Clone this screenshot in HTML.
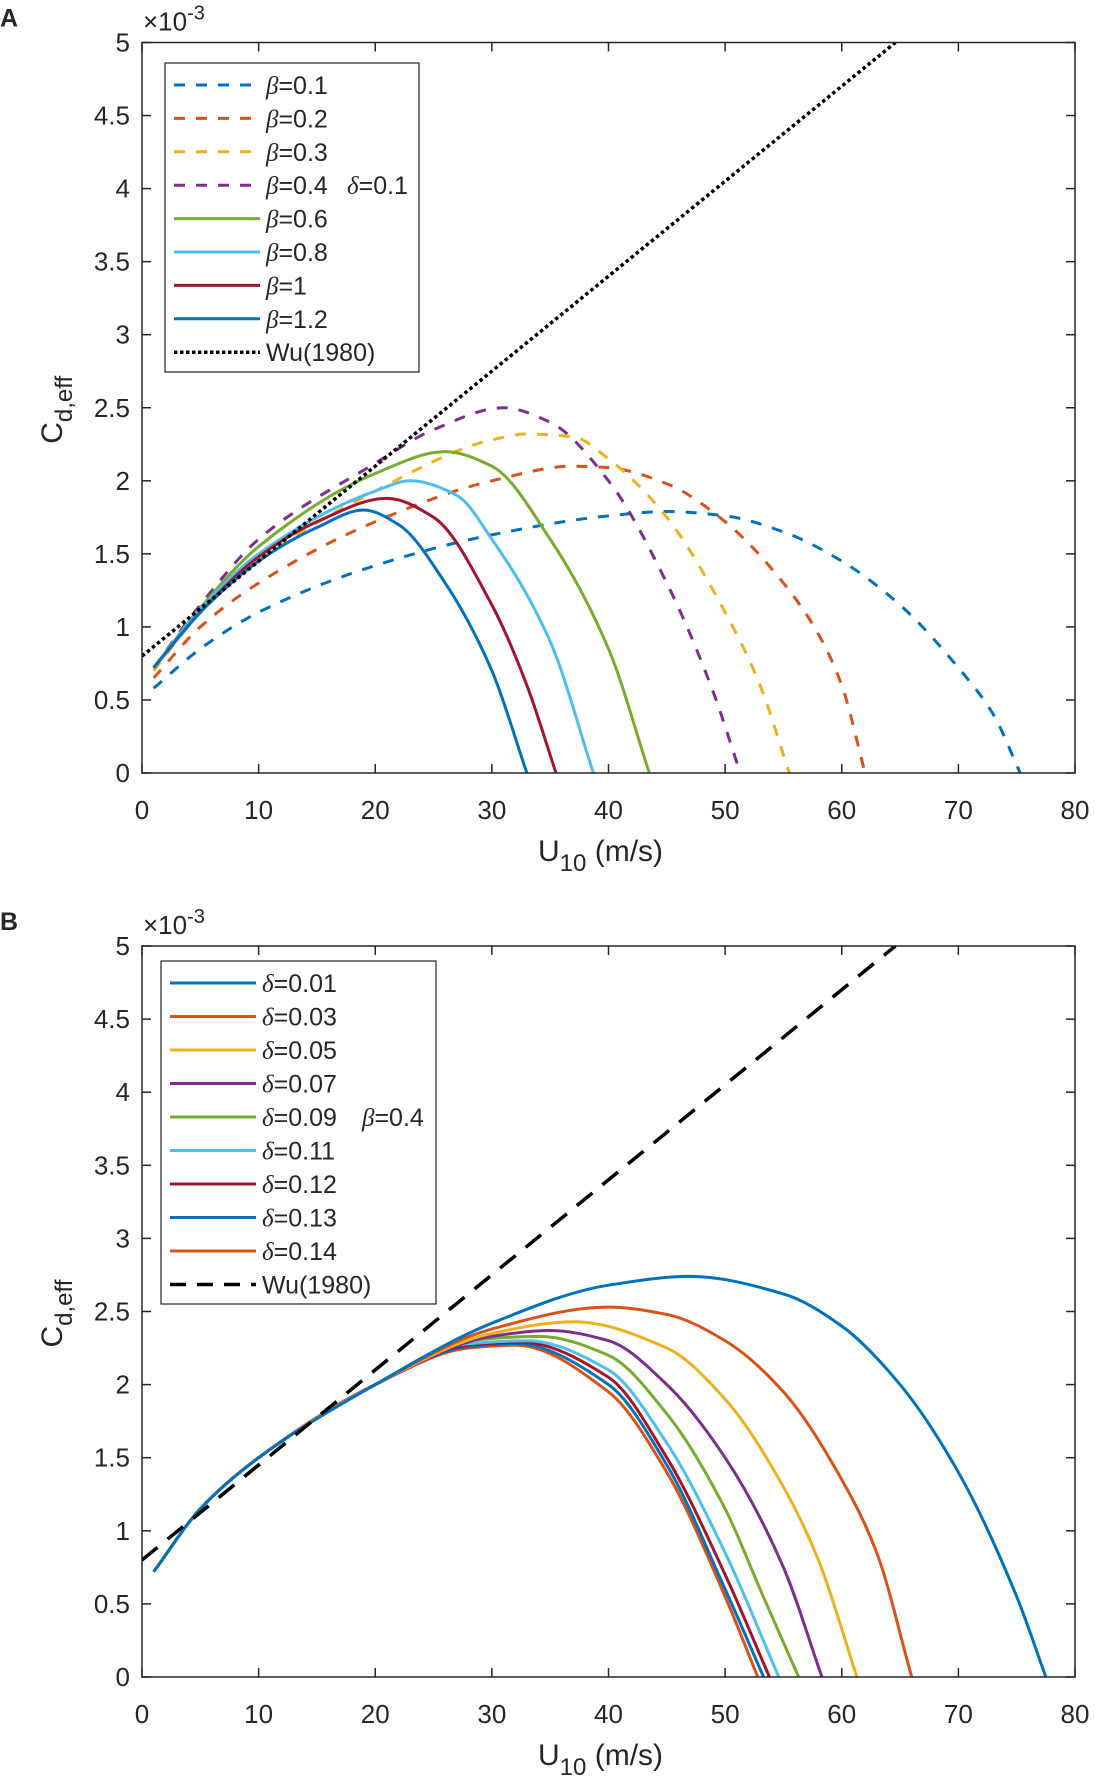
<!DOCTYPE html>
<html><head><meta charset="utf-8"><style>
body{margin:0;background:#fff;}
svg text{font-family:"Liberation Sans",Arial,sans-serif;fill:#262626;}
</style></head><body>
<svg id="c" width="1096" height="1784" viewBox="0 0 1096 1784" xmlns="http://www.w3.org/2000/svg"></svg>
<script>
const xTicks=[0,10,20,30,40,50,60,70,80];
const yTicks=[0,0.5,1,1.5,2,2.5,3,3.5,4,4.5,5];
const yTickLabels=["0","0.5","1","1.5","2","2.5","3","3.5","4","4.5","5"];
const colors=["#0072BD","#D95319","#EDB120","#7E2F8E","#77AC30","#4DBEEE","#A2142F"];
// Panel A series
const aLabels=["0.1","0.2","0.3","0.4","0.6","0.8","1","1.2"];
const aB01x=[1,5,10,20,30,40,45,50,55,60,65,70,73,75.3];
const aB01y=[0.58,0.85,1.1,1.42,1.63,1.76,1.79,1.76,1.65,1.45,1.15,0.72,0.4,0];
const aB02x=[1,5,10,20,30,37,40,45,50,55,58,60,62];
const aB02y=[0.65,1.0,1.3,1.72,2.0,2.1,2.09,1.98,1.72,1.3,0.95,0.6,0];
const aB03x=[1,5,10,20,30,33,37,40,45,50,53,55.5];
const aB03y=[0.7,1.1,1.45,1.93,2.28,2.32,2.3,2.15,1.75,1.1,0.6,0];
const aB04x=[1,5,10,20,25,31,35,40,45,49,51.3];
const aB04y=[0.72,1.15,1.6,2.12,2.35,2.5,2.4,2.0,1.3,0.55,0];
const aB06x=[1,5,10,20,26,30,35,40,43.5];
const aB06y=[0.72,1.13,1.55,2.05,2.2,2.1,1.6,0.85,0];
const aB08x=[1,5,10,20,23,27,30,35,38.7];
const aB08y=[0.72,1.12,1.5,1.93,2.0,1.9,1.6,0.9,0];
const aB10x=[1,5,10,15,21,25,30,33,35.5];
const aB10y=[0.72,1.1,1.48,1.72,1.88,1.75,1.15,0.6,0];
const aB12x=[1,5,10,15,19,22,26,30,33];
const aB12y=[0.72,1.1,1.45,1.68,1.8,1.7,1.3,0.7,0];
// Wu(1980): straight line
const wuX=[0,64.6];
const wuY=[0.8,5.0];
// Panel B series
const bLabels=["0.01","0.03","0.05","0.07","0.09","0.11","0.12","0.13","0.14"];
const bD01x=[1,5,10,20,30,40,47,55,60,65,70,75,77.5];
const bD01y=[0.72,1.15,1.5,2.0,2.42,2.68,2.74,2.62,2.4,2.0,1.4,0.55,0];
const bD03x=[1,5,10,20,30,40,45,50,55,60,63,66];
const bD03y=[0.72,1.15,1.5,2.0,2.38,2.53,2.48,2.3,1.95,1.35,0.85,0];
const bD05x=[1,5,10,20,30,37,45,50,55,58,61.3];
const bD05y=[0.72,1.15,1.5,2.0,2.35,2.43,2.25,1.9,1.3,0.8,0];
const bD07x=[1,5,10,20,30,35,40,45,50,55,58.3];
const bD07y=[0.72,1.15,1.5,2.0,2.33,2.37,2.3,2.0,1.5,0.75,0];
const bD09x=[1,5,10,20,28,34,40,45,50,53,56.3];
const bD09y=[0.72,1.15,1.5,2.0,2.3,2.33,2.2,1.8,1.15,0.6,0];
const bD11x=[1,5,10,20,28,33,40,45,50,54.6];
const bD11y=[0.72,1.15,1.5,2.0,2.28,2.3,2.1,1.6,0.85,0];
const bD12x=[1,5,10,20,28,32.5,40,45,50,53.8];
const bD12y=[0.72,1.15,1.5,2.0,2.27,2.29,2.05,1.5,0.7,0];
const bD13x=[1,5,10,20,28,32,40,45,50,53.3];
const bD13y=[0.72,1.15,1.5,2.0,2.26,2.28,2.0,1.45,0.6,0];
const bD14x=[1,5,10,20,28,32,40,45,50,52.8];
const bD14y=[0.72,1.15,1.5,2.0,2.25,2.27,1.95,1.4,0.55,0];

const svg=document.getElementById('c');
const NS="http://www.w3.org/2000/svg";
function el(t,a,p){const e=document.createElementNS(NS,t);for(const k in a)e.setAttribute(k,a[k]);(p||svg).appendChild(e);return e;}
const X0=142,X1=1075;
function sx(v){return X0+(v/80)*(X1-X0);}
function mkY(top,bot){return v=>bot-(v/5)*(bot-top);}
// monotone cubic (Fritsch-Carlson) in x
function smooth(pts){const n=pts.length,d=[],m=[];
 for(let i=0;i<n-1;i++)d.push((pts[i+1][1]-pts[i][1])/(pts[i+1][0]-pts[i][0]));
 m[0]=d[0];m[n-1]=d[n-2];
 for(let i=1;i<n-1;i++){if(d[i-1]*d[i]<=0)m[i]=0;else{const h0=pts[i][0]-pts[i-1][0],h1=pts[i+1][0]-pts[i][0];
  const w1=2*h1+h0,w2=h1+2*h0;m[i]=(w1+w2)/(w1/d[i-1]+w2/d[i]);}}
 let s="M"+pts[0][0]+","+pts[0][1];
 for(let i=0;i<n-1;i++){const h=(pts[i+1][0]-pts[i][0])/3;
  s+=" C"+(pts[i][0]+h)+","+(pts[i][1]+m[i]*h)+" "+(pts[i+1][0]-h)+","+(pts[i+1][1]-m[i+1]*h)+" "+pts[i+1][0]+","+pts[i+1][1];}
 return s;}

function panel(id,top,bot,letter,series,wuDash,legend){
 const sy=mkY(top,bot);
 const g=el('g',{});
 
 
 const clip=el('clipPath',{id:'clip'+id},g);el('rect',{x:X0,y:top,width:X1-X0,height:bot-top},clip);
 const plot=el('g',{'clip-path':'url(#clip'+id+')'},g);
 
 
 series.forEach(s=>{const pts=s.x.map((v,i)=>[sx(v),sy(s.y[i])]);
  const p=el('path',{d:smooth(pts),fill:'none',stroke:s.c,'stroke-width':3,'stroke-dasharray':s.dash||'none'},plot);
  
  });
 const w=el('line',{x1:sx(wuX[0]),y1:sy(wuY[0]),x2:sx(wuX[1]),y2:sy(wuY[1]),stroke:'#000','stroke-width':3.5,'stroke-dasharray':wuDash},plot);
 
 
 const box=el('rect',{x:X0,y:top,width:X1-X0,height:bot-top,fill:'none',stroke:'#262626','stroke-width':1.5},g);
 
 
 xTicks.forEach(v=>{const x=sx(v);
  el('line',{x1:x,y1:bot,x2:x,y2:bot-9,stroke:'#262626','stroke-width':1.5},g);
  el('line',{x1:x,y1:top,x2:x,y2:top+9,stroke:'#262626','stroke-width':1.5},g);
  const t=el('text',{x:x,y:bot+46,'font-size':26,'text-anchor':'middle'},g);t.textContent=v;
  
  });
 yTicks.forEach((v,i)=>{const y=sy(v);
  el('line',{x1:X0,y1:y,x2:X0+9,y2:y,stroke:'#262626','stroke-width':1.5},g);
  el('line',{x1:X1,y1:y,x2:X1-9,y2:y,stroke:'#262626','stroke-width':1.5},g);
  const t=el('text',{x:X0-12,y:y+9,'font-size':26,'text-anchor':'end'},g);t.textContent=yTickLabels[i];
  
  });
 const ex=el('text',{x:143,y:top-12,'font-size':26},g);ex.innerHTML='×10<tspan dy="-11" font-size="20">-3</tspan>';
 
 
 const xl=el('text',{x:538,y:bot+88,'font-size':30},g);xl.innerHTML='U<tspan dy="10" font-size="24">10</tspan><tspan dy="-10">  (m/s)</tspan>';
 
 
 const cy=(top+bot)/2;
 const yl=el('text',{x:0,y:0,'font-size':30,transform:`translate(62,${cy+36}) rotate(-90)`},g);yl.innerHTML='C<tspan dy="10" font-size="24">d,eff</tspan>';
 
 
 const lt=el('text',{x:0,y:top-16,'font-size':25,'font-weight':'bold',fill:'#000'},g);lt.textContent=letter;
 
 
 const L=legend;
 const lg=el('g',{},g);
 
 
 el('rect',{x:L.x,y:L.y,width:L.w,height:L.h,fill:'#fff',stroke:'#262626','stroke-width':1.2},lg);
 L.items.forEach((it,i)=>{const y=L.r0+i*L.dy;
  const e=el('g',{},lg);
  
  
  el('line',{x1:L.x+9,y1:y,x2:L.x+95,y2:y,stroke:it.c,'stroke-width':it.sw||3,'stroke-dasharray':it.dash||'none'},e);
  const t=el('text',{x:L.x+101,y:y+9,'font-size':25},e);
  if(it.sym){const s=el('tspan',{'font-family':'Liberation Serif, serif','font-style':'italic'},t);s.textContent=it.sym;const r=el('tspan',{},t);r.textContent='='+it.t;}
  else t.textContent=it.t;
  if(it.extra){const t2=el('text',{x:it.ex,y:y+9,'font-size':25},e);
   const s=el('tspan',{'font-family':'Liberation Serif, serif','font-style':'italic'},t2);s.textContent=it.extraSym;
   const r=el('tspan',{},t2);r.textContent='='+it.extra;}
 });
}
const dash='11,11';
const aSeries=[
 {n:'beta-0.1',x:aB01x,y:aB01y,c:colors[0],dash},
 {n:'beta-0.2',x:aB02x,y:aB02y,c:colors[1],dash},
 {n:'beta-0.3',x:aB03x,y:aB03y,c:colors[2],dash},
 {n:'beta-0.4',x:aB04x,y:aB04y,c:colors[3],dash},
 {n:'beta-0.6',x:aB06x,y:aB06y,c:colors[4]},
 {n:'beta-0.8',x:aB08x,y:aB08y,c:colors[5]},
 {n:'beta-1',x:aB10x,y:aB10y,c:colors[6]},
 {n:'beta-1.2',x:aB12x,y:aB12y,c:colors[0]}];
const aItems=aSeries.map((s,i)=>({sym:'β',t:aLabels[i],c:s.c,dash:s.dash}));
aItems[3].extra='0.1';aItems[3].extraSym='δ';aItems[3].ex=347;
aItems.push({t:'Wu(1980)',c:'#000',dash:'3.5,2.5',sw:3.5});
panel('a',42.5,773,'A',aSeries,'3.5,3',{x:165,y:63,w:254,h:309,r0:85,dy:33.4,items:aItems});
const bx=[bD01x,bD03x,bD05x,bD07x,bD09x,bD11x,bD12x,bD13x,bD14x];
const by=[bD01y,bD03y,bD05y,bD07y,bD09y,bD11y,bD12y,bD13y,bD14y];
const bc=[colors[0],colors[1],colors[2],colors[3],colors[4],colors[5],colors[6],colors[0],colors[1]];
const bSeries=bx.map((x,i)=>({n:'delta-'+bLabels[i],x,y:by[i],c:bc[i]})).reverse();
const bItems=bLabels.map((t,i)=>({sym:'δ',t,c:bc[i]}));
bItems[4].extra='0.4';bItems[4].extraSym='β';bItems[4].ex=362;
bItems.push({t:'Wu(1980)',c:'#000',dash:'16,11',sw:3.5});
panel('b',946,1677,'B',bSeries,'20,13',{x:161,y:961,w:275,h:343,r0:983,dy:33.5,items:bItems});
</script>
</body></html>
